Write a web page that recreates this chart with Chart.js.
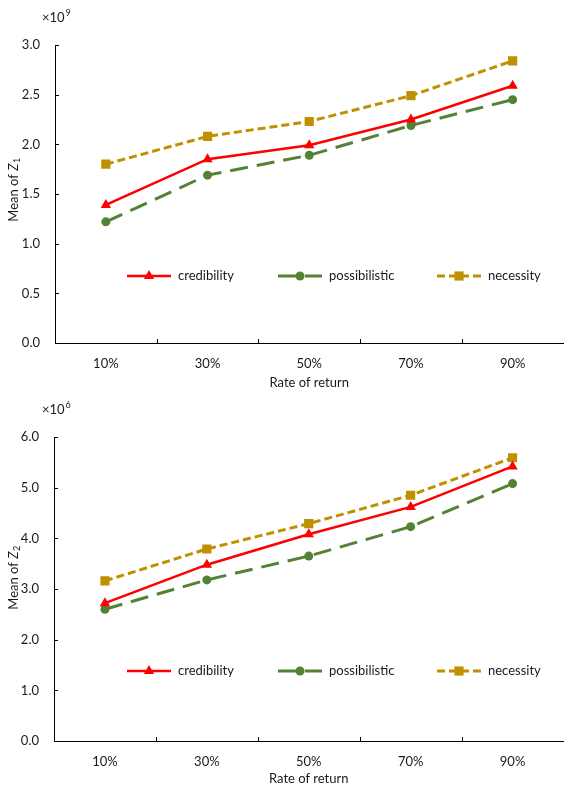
<!DOCTYPE html>
<html>
<head>
<meta charset="utf-8">
<script src="https://cdn.jsdelivr.net/npm/chart.js@4"></script>
<style>
  html, body { margin: 0; padding: 0; background: #fff; }
  .box { position: relative; width: 570px; }
  #boxZ1 { height: 395px; }
  #boxZ2 { height: 394px; }
</style>
</head>
<body>
<div class="box" id="boxZ1"><canvas id="chartZ1"></canvas></div>
<div class="box" id="boxZ2"><canvas id="chartZ2"></canvas></div>
<script>
const rates = ["10%", "30%", "50%", "70%", "90%"];
const seriesNames = ["credibility", "possibilistic", "necessity"];

// mean of Z1, in units of 1e9
const z1Credibility = [1.39, 1.85, 1.99, 2.25, 2.59];
const z1Possibilistic = [1.22, 1.69, 1.89, 2.19, 2.45];
const z1Necessity = [1.80, 2.08, 2.23, 2.49, 2.84];
const z1Ticks = [0, 0.5, 1.0, 1.5, 2.0, 2.5, 3.0];

// mean of Z2, in units of 1e6
const z2Credibility = [2.72, 3.48, 4.08, 4.62, 5.42];
const z2Possibilistic = [2.60, 3.18, 3.65, 4.23, 5.08];
const z2Necessity = [3.16, 3.79, 4.29, 4.85, 5.59];
const z2Ticks = [0, 1, 2, 3, 4, 5, 6];

const FONT = "Lato";
const TEXT = "#1a1a1a";
const COLORS = ["#ff0000", "#548235", "#bf9000"];

function marker(ctx, style, x, y, r, color) {
  ctx.save();
  ctx.setLineDash([]);
  ctx.fillStyle = color;
  ctx.beginPath();
  if (style === "triangle") {
    ctx.moveTo(x, y - r);
    ctx.lineTo(x + r * 0.866, y + r * 0.5);
    ctx.lineTo(x - r * 0.866, y + r * 0.5);
    ctx.closePath();
  } else if (style === "rect") {
    const s = r * Math.SQRT1_2;
    ctx.rect(x - s, y - s, 2 * s, 2 * s);
  } else {
    ctx.arc(x, y, r, 0, Math.PI * 2);
  }
  ctx.fill();
  ctx.restore();
}

// inner ticks, legend inside the plot, y title with subscript, exponent
const decor = {
  id: "decor",
  afterDraw(chart, args, opts) {
    const { ctx, chartArea } = chart;
    const x = chart.scales.x, y = chart.scales.y;
    ctx.save();
    ctx.strokeStyle = "#000";
    ctx.lineWidth = 1;
    y.ticks.forEach(t => {
      const py = Math.round(y.getPixelForValue(t.value)) + 0.5;
      ctx.beginPath();
      ctx.moveTo(chartArea.left, py);
      ctx.lineTo(chartArea.left + 4, py);
      ctx.stroke();
    });
    for (let i = 0; i < rates.length - 1; i++) {
      const px = Math.round((x.getPixelForValue(i) + x.getPixelForValue(i + 1)) / 2) + 0.5;
      ctx.beginPath();
      ctx.moveTo(px, chartArea.bottom);
      ctx.lineTo(px, chartArea.bottom - 4);
      ctx.stroke();
    }

    // legend
    ctx.textBaseline = "middle";
    ctx.textAlign = "left";
    ctx.font = "13px " + FONT;
    chart.data.datasets.forEach((ds, i) => {
      const lx = opts.legendX[i], ly = opts.legendY;
      ctx.save();
      ctx.strokeStyle = ds.borderColor;
      ctx.lineWidth = ds.borderWidth;
      ctx.setLineDash(ds.borderDash || []);
      ctx.beginPath();
      ctx.moveTo(lx, ly);
      ctx.lineTo(lx + 44, ly);
      ctx.stroke();
      ctx.restore();
      marker(ctx, ds.pointStyle, lx + 22, ly, ds.pointRadius, ds.borderColor);
      ctx.fillStyle = TEXT;
      ctx.fillText(ds.label, lx + 51, ly);
    });

    // y title: Mean of Z_n
    const cy = (chartArea.top + chartArea.bottom) / 2 + opts.titleShift;
    ctx.save();
    ctx.translate(14, cy);
    ctx.rotate(-Math.PI / 2);
    const parts = [
      { t: "Mean of ", f: "13px " + FONT, dy: 0 },
      { t: "Z", f: "italic 13px " + FONT, dy: 0 },
      { t: opts.sub, f: "9px " + FONT, dy: 3 }
    ];
    let total = 0;
    parts.forEach(p => { ctx.font = p.f; p.w = ctx.measureText(p.t).width; total += p.w; });
    let cx = -total / 2;
    ctx.fillStyle = TEXT;
    parts.forEach(p => { ctx.font = p.f; ctx.fillText(p.t, cx, p.dy); cx += p.w + (p.t === "Z" ? 0.5 : 0); });
    ctx.restore();

    // exponent
    ctx.fillStyle = TEXT;
    ctx.font = "13px " + FONT;
    const ey = chartArea.top - 27;
    ctx.fillText("\u00d710", 42, ey);
    const w = ctx.measureText("\u00d710").width;
    ctx.font = "9px " + FONT;
    ctx.fillText(opts.exp, 42 + w + 1, ey - 5);
    ctx.restore();
  }
};

function makeChart(id, values, ticks, sub, exp, pad, legendY, titleShift) {
  const styles = [
    { pointStyle: "triangle", pointRadius: 6, borderDash: [], borderWidth: 2.5 },
    { pointStyle: "circle", pointRadius: 4.5, borderDash: [18, 9], borderWidth: 3 },
    { pointStyle: "rect", pointRadius: 6.5, borderDash: [8, 4], borderWidth: 3 }
  ];
  const datasets = values.map((v, i) => ({
    label: seriesNames[i],
    data: v,
    borderColor: COLORS[i],
    backgroundColor: COLORS[i],
    pointBackgroundColor: COLORS[i],
    pointBorderColor: COLORS[i],
    pointBorderWidth: 0,
    tension: 0,
    ...styles[i]
  }));

  return new Chart(document.getElementById(id), {
    type: "line",
    data: { labels: rates, datasets },
    options: {
      responsive: true,
      maintainAspectRatio: false,
      animation: false,
      layout: { padding: { top: pad.top, right: pad.right, bottom: 0, left: 0 } },
      plugins: {
        legend: { display: false },
        tooltip: { enabled: false },
        decor: { legendX: [127, 278, 437], legendY, sub, exp, titleShift }
      },
      scales: {
        x: {
          offset: true,
          grid: { display: false },
          border: { display: true, color: "#000", width: 1 },
          ticks: { color: TEXT, padding: 5, font: { family: FONT, size: 13 } },
          title: {
            display: true,
            text: "Rate of return",
            color: TEXT,
            font: { family: FONT, size: 13 },
            padding: { top: 0, bottom: pad.titleBottom }
          },
          afterFit: s => { s.height = pad.xh; }
        },
        y: {
          min: ticks[0],
          max: ticks[ticks.length - 1],
          grid: { display: false },
          border: { display: true, color: "#000", width: 1 },
          afterBuildTicks: s => { s.ticks = ticks.map(v => ({ value: v })); },
          ticks: {
            color: TEXT,
            padding: 7,
            font: { family: FONT, size: 13 },
            callback: v => Number(v).toFixed(1)
          },
          afterFit: s => { s.width = pad.yw; }
        }
      }
    },
    plugins: [decor]
  });
}

makeChart("chartZ1", [z1Credibility, z1Possibilistic, z1Necessity], z1Ticks, "1", "9",
  { top: 45, right: 5, xh: 52, yw: 55, titleBottom: 4 }, 276, -4);
makeChart("chartZ2", [z2Credibility, z2Possibilistic, z2Necessity], z2Ticks, "2", "6",
  { top: 42, right: 0, xh: 48, yw: 54, titleBottom: 2 }, 276, -11);
</script>
</body>
</html>
